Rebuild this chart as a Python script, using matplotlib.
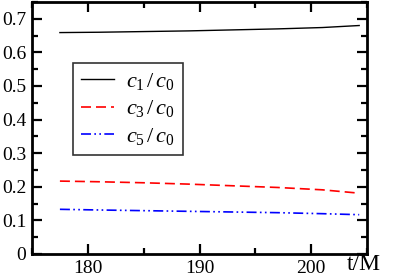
import matplotlib
matplotlib.use("Agg")
import matplotlib.pyplot as plt
import numpy as np
from matplotlib.ticker import MultipleLocator

plt.rcParams['font.family'] = 'Liberation Serif'
plt.rcParams['mathtext.fontset'] = 'custom'
plt.rcParams['mathtext.it'] = 'Liberation Serif:italic'
plt.rcParams['mathtext.rm'] = 'Liberation Serif'

t = [177.5, 181.0, 185.0, 189.0, 193.0, 197.0, 201.0, 204.3]
c1 = [0.659, 0.660, 0.662, 0.664, 0.667, 0.670, 0.674, 0.680]
c3 = [0.217, 0.215, 0.212, 0.208, 0.203, 0.198, 0.191, 0.181]
c5 = [0.133, 0.131, 0.129, 0.127, 0.125, 0.123, 0.120, 0.117]

labels = [r'$\mathit{c}_{\mathit{1}}\,/\,\mathit{c}_{\mathit{0}}$',
          r'$\mathit{c}_{\mathit{3}}\,/\,\mathit{c}_{\mathit{0}}$',
          r'$\mathit{c}_{\mathit{5}}\,/\,\mathit{c}_{\mathit{0}}$']

fig = plt.figure(figsize=(4.15, 2.76), dpi=100)
ax = fig.add_axes([32/415, 1-254/276, (367-32)/415, (254-2)/276])

ax.plot(t, c1, color='black', lw=1.0, label=labels[0])
ax.plot(t, c3, color='red', lw=1.2, dashes=(6, 3), label=labels[1])
ax.plot(t, c5, color='blue', lw=1.2, dashes=(6, 2, 1, 2, 1, 2), label=labels[2])

ax.set_xlim(175, 205)
ax.set_ylim(0, 0.75)
ax.xaxis.set_major_locator(MultipleLocator(10))
ax.xaxis.set_minor_locator(MultipleLocator(5))
ax.yaxis.set_minor_locator(MultipleLocator(0.05))
ax.set_yticks([0, 0.1, 0.2, 0.3, 0.4, 0.5, 0.6, 0.7])
ax.set_yticklabels(['0', '0.1', '0.2', '0.3', '0.4', '0.5', '0.6', '0.7'])
ax.tick_params(which='both', direction='in', top=True, right=True, labelsize=14, width=1.6)
ax.tick_params(which='major', length=7, pad=4)
ax.tick_params(which='minor', length=4)
for s in ax.spines.values():
    s.set_linewidth(2.0)

fig.text(364/415, 1-265/276, 't/M', fontsize=17, va='center', ha='center')

leg = ax.legend(loc='upper left', bbox_to_anchor=((73-32)/335, (254-63)/252),
                borderaxespad=0, fontsize=16, frameon=True, fancybox=False,
                edgecolor='black', handlelength=1.5, borderpad=0.35,
                labelspacing=0.3, handletextpad=0.55)
leg.get_frame().set_linewidth(1.2)

fig.savefig('out.png', dpi=100)
